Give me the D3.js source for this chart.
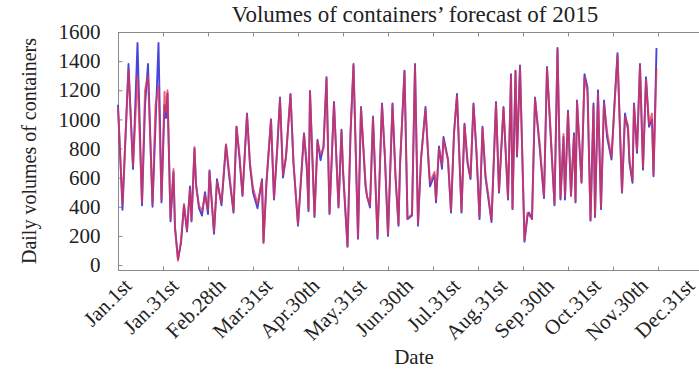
<!DOCTYPE html>
<html>
<head>
  <meta charset="utf-8">
  <title>Volumes of containers' forecast of 2015</title>
  <script src="https://cdn.jsdelivr.net/npm/d3@7"></script>
  <style>
    body { margin: 0; background: #fff; }
    svg { display: block; font-family: "Liberation Serif", "DejaVu Serif", serif; }
    .frame { fill: none; stroke: #8a8a8a; stroke-width: 1; }
    .axis path { display: none; }
    .axis line { stroke: #8a8a8a; }
    .axis text, .xlabel { fill: #222; font-size: 21px; font-family: "Liberation Serif", serif; }
  </style>
</head>
<body>
<svg id="chart" width="699" height="369"></svg>
<script>
  // day of year (0 = Jan.1st) for each reading
  var days = [0, 3, 7, 10, 13, 16, 18, 20, 23, 25, 27, 29, 31, 32, 33, 35, 37, 38, 40, 42,
    44, 46, 48, 49, 51, 52, 54, 56, 58, 60, 61, 64, 66, 69, 72, 74, 77, 79, 81, 83,
    86, 88, 90, 93, 96, 97, 99, 102, 104, 106, 108, 110, 112, 115, 117, 120, 124, 126, 127, 128,
    131, 133, 135, 137, 139, 141, 144, 147, 149, 150, 153, 155, 157, 160, 162, 165, 166, 168, 170, 173,
    176, 178, 180, 183, 185, 187, 188, 191, 193, 196, 198, 200, 202, 205, 207, 208, 211, 212, 214, 216,
    217, 220, 222, 224, 226, 229, 231, 233, 235, 237, 239, 241, 243, 245, 247, 249, 252, 254, 257, 260,
    262, 263, 265, 266, 268, 271, 273, 274, 276, 278, 281, 284, 286, 288, 291, 293, 295, 297, 298, 300,
    302, 304, 305, 306, 309, 311, 313, 315, 317, 318, 320, 322, 324, 326, 329, 331, 333, 336, 338, 340,
    341, 343, 344, 346, 348, 350, 352, 354, 356, 357, 359];

  // blue series
  var actual = [1100, 380, 1380, 660, 1525, 410, 1090, 1380, 400, 960, 1525, 430, 1100, 1010, 1180, 300, 640, 260, 40, 150,
    410, 230, 540, 300, 800, 560, 390, 340, 500, 350, 650, 215, 590, 410, 825, 620, 360, 950, 730, 475,
    1040, 680, 500, 390, 590, 158, 565, 1000, 450, 770, 1150, 600, 745, 1175, 700, 270, 905, 640, 370, 1195,
    330, 860, 720, 815, 1290, 350, 1120, 395, 930, 640, 125, 900, 1380, 180, 1085, 540, 475, 395, 1020, 180,
    1110, 725, 200, 1110, 610, 270, 680, 1335, 315, 340, 1380, 270, 725, 1085, 700, 540, 620, 430, 815, 660,
    880, 725, 360, 905, 1175, 360, 970, 700, 590, 1110, 770, 315, 950, 600, 450, 295, 1120, 497, 1085, 450,
    1310, 384, 1335, 745, 1370, 160, 340, 360, 315, 1150, 820, 460, 1360, 970, 410, 1490, 450, 880, 450, 1060,
    475, 905, 430, 1130, 565, 1310, 1220, 305, 1110, 330, 1200, 384, 1130, 880, 725, 1110, 1455, 497, 1040, 930,
    700, 565, 1110, 770, 1380, 655, 1290, 950, 1000, 610, 1490];

  // red series
  var forecast = [1080, 420, 1340, 680, 1300, 430, 1200, 1300, 420, 1100, 1230, 450, 1190, 1050, 1200, 320, 660, 250, 30, 170,
    420, 240, 520, 310, 810, 540, 410, 370, 480, 380, 640, 230, 570, 430, 830, 650, 370, 950, 760, 480,
    1030, 700, 530, 420, 580, 150, 580, 1000, 460, 780, 1140, 620, 740, 1170, 700, 280, 900, 690, 380, 1190,
    340, 850, 760, 800, 1280, 360, 1110, 400, 920, 670, 130, 905, 1370, 190, 1080, 570, 470, 410, 1010, 190,
    1100, 740, 210, 1100, 600, 280, 690, 1330, 320, 350, 1370, 280, 730, 1070, 730, 570, 640, 450, 800, 690,
    860, 720, 370, 900, 1160, 370, 960, 720, 600, 1100, 780, 330, 940, 620, 470, 310, 1110, 510, 1080, 460,
    1300, 390, 1330, 760, 1360, 170, 360, 340, 320, 1140, 850, 470, 1350, 1000, 420, 1480, 460, 900, 470, 1050,
    480, 890, 440, 1120, 570, 1290, 1180, 310, 1090, 340, 1180, 400, 1110, 920, 740, 1090, 1440, 500, 1020, 960,
    720, 580, 1100, 790, 1370, 670, 1270, 970, 1040, 620, 1350];

  var tickDays = [0, 30, 60, 90, 120, 150, 180, 210, 240, 270, 300, 330, 360];
  var tickLabels = ['Jan.1st', 'Jan.31st', 'Feb.28th', 'Mar.31st', 'Apr.30th', 'May.31st', 'Jun.30th',
    'Jul.31st', 'Aug.31st', 'Sep.30th', 'Oct.31st', 'Nov.30th', 'Dec.31st'];
  var yTicks = [0, 200, 400, 600, 800, 1000, 1200, 1400, 1600];

  var svg = d3.select('#chart');
  var plotLeft = 118, plotRight = 703, plotTop = 32, plotBottom = 270;

  var x = d3.scaleLinear().domain([0, 390]).range([plotLeft, plotRight]);
  var y = d3.scaleLinear().domain([-34, 1600]).range([plotBottom, plotTop]);
  // the date labels in the original sit on a slightly wider pitch than the ticks
  var xLabel = d3.scaleLinear().domain([0, 360]).range([plotLeft + 15, plotLeft + 578]);

  // title
  svg.append('text')
    .attr('x', 415).attr('y', 22)
    .attr('text-anchor', 'middle')
    .style('font-size', '23px').style('fill', '#222')
    .text('Volumes of containers\u2019 forecast of 2015');

  // frame
  svg.append('rect').attr('class', 'frame')
    .attr('x', plotLeft + 0.5).attr('y', plotTop + 0.5)
    .attr('width', plotRight - plotLeft).attr('height', plotBottom - plotTop);

  // bottom ticks, pointing in
  svg.append('g').attr('class', 'axis')
    .attr('transform', 'translate(0,' + (plotBottom + 0.5) + ')')
    .call(d3.axisBottom(x).tickValues(tickDays).tickSizeInner(-4).tickSizeOuter(0).tickFormat(''));

  svg.append('g').selectAll('text')
    .data(tickDays)
    .enter().append('text')
      .attr('class', 'xlabel')
      .attr('text-anchor', 'end')
      .attr('transform', function(d) { return 'translate(' + xLabel(d) + ',' + (plotBottom + 17) + ') rotate(-45)'; })
      .text(function(d, i) { return tickLabels[i]; });

  // top ticks
  svg.append('g').attr('class', 'axis')
    .attr('transform', 'translate(0,' + (plotTop + 0.5) + ')')
    .call(d3.axisTop(x).tickValues(tickDays).tickSizeInner(-4).tickSizeOuter(0).tickFormat(''));

  // left axis
  svg.append('g').attr('class', 'axis')
    .attr('transform', 'translate(' + (plotLeft + 0.5) + ',0)')
    .call(d3.axisLeft(y).tickValues(yTicks).tickSizeInner(-4).tickSizeOuter(0).tickPadding(18)
      .tickFormat(d3.format('d')));

  // axis titles
  svg.append('text')
    .attr('transform', 'translate(36,151) rotate(-90)')
    .attr('text-anchor', 'middle')
    .style('font-size', '20px').style('fill', '#222')
    .text('Daily volumes of containers');

  svg.append('text')
    .attr('x', 414).attr('y', 364)
    .attr('text-anchor', 'middle')
    .style('font-size', '21px').style('fill', '#222')
    .text('Date');

  var line = function(values) {
    return d3.line()
      .x(function(d, i) { return x(days[i]); })
      .y(function(d) { return y(d); })(values);
  };

  svg.append('path')
    .attr('d', line(actual))
    .attr('fill', 'none')
    .attr('stroke', '#4646dc')
    .attr('stroke-width', 1.9)
    .attr('stroke-linejoin', 'round');

  svg.append('path')
    .attr('d', line(forecast))
    .attr('fill', 'none')
    .attr('stroke', '#e8304f')
    .attr('stroke-opacity', 0.75)
    .attr('stroke-width', 1.9)
    .attr('stroke-linejoin', 'round');
</script>
</body>
</html>
